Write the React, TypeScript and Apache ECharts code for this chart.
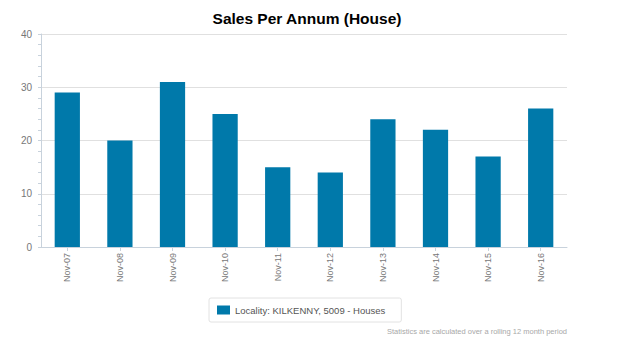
import React, { useEffect, useRef } from "react";
import * as echarts from "echarts";

const categories = ["Nov-07", "Nov-08", "Nov-09", "Nov-10", "Nov-11", "Nov-12", "Nov-13", "Nov-14", "Nov-15", "Nov-16"];
const salesValues = [29, 20, 31, 25, 15, 14, 24, 22, 17, 26];
const seriesName = "Locality: KILKENNY, 5009 - Houses";
const titleText = "Sales Per Annum (House)";
const footnote = "Statistics are calculated over a rolling 12 month period";

const FONT = "'Liberation Sans', Arial, Helvetica, sans-serif";

export default function App() {
  const ref = useRef<HTMLDivElement>(null);
  useEffect(() => {
    if (!ref.current) return;
    const chart = echarts.init(ref.current, null, { renderer: "svg" });
    chart.setOption({
      animation: false,
      backgroundColor: "#ffffff",
      textStyle: { fontFamily: FONT },
      title: {
        text: titleText,
        left: 302,
        textAlign: "center",
        top: 5,
        textStyle: { fontFamily: FONT, fontSize: 15.5, fontWeight: "bold", color: "#000" },
      },
      grid: { left: 41, right: 57, top: 34, bottom: 97, containLabel: false },
      legend: {
        data: [seriesName],
        left: 209,
        top: 298,
        orient: "horizontal",
        icon: "rect",
        itemWidth: 13,
        itemHeight: 9,
        itemGap: 5,
        padding: [7, 16, 7, 8],
        borderColor: "#e2e2e2",
        borderWidth: 1,
        borderRadius: 2,
        textStyle: { fontFamily: FONT, fontSize: 9.5, color: "#555", padding: [0, 0, 0, 0] },
      },
      xAxis: {
        type: "category",
        data: categories,
        axisLine: { show: true, lineStyle: { color: "#c8d2dc", width: 1 } },
        axisTick: { show: true, alignWithLabel: true, length: 4, lineStyle: { color: "#c8d2dc" } },
        axisLabel: { rotate: 90, fontSize: 9, color: "#777", margin: 6, fontFamily: FONT },
        splitLine: { show: false },
      },
      yAxis: {
        type: "value",
        min: 0,
        max: 40,
        interval: 10,
        axisLine: { show: true, lineStyle: { color: "#c8d2dc" } },
        axisTick: { show: true, length: 3, lineStyle: { color: "#c8d2dc" } },
        minorTick: { show: true, splitNumber: 5, length: 3, lineStyle: { color: "#c8d2dc" } },
        axisLabel: { fontSize: 10, color: "#777", margin: 9, fontFamily: FONT },
        splitLine: { show: true, lineStyle: { color: "#e0e0e0", width: 1 } },
      },
      series: [
        {
          name: seriesName,
          type: "bar",
          data: salesValues,
          barWidth: "48%",
          itemStyle: { color: "#0079aa" },
        },
      ],
      graphic: [
        {
          type: "text",
          right: 57,
          top: 327,
          style: { text: footnote, fontSize: 7.5, fill: "#a8a8a8", fontFamily: FONT },
        },
      ],
    });
    return () => chart.dispose();
  }, []);
  return <div ref={ref} style={{ width: 624, height: 344, margin: -8 }} />;
}
